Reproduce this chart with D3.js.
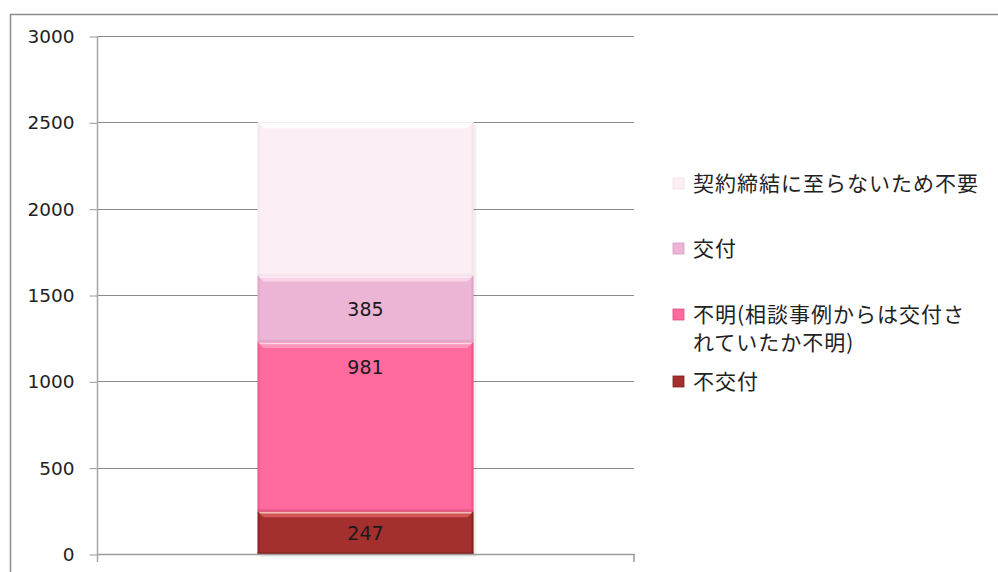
<!DOCTYPE html>
<html>
<head>
<meta charset="utf-8">
<script src="https://cdn.jsdelivr.net/npm/d3@7"></script>
<style>
  body { margin: 0; background: #fff; }
  svg { display: block; }
</style>
</head>
<body>
<script>
// data
var categories = [""];
var seriesNames = ["不交付", "不明（相談事例からは交付されていたか不明）", "交付", "契約締結に至らないため不要"];
var seriesValues = [247, 981, 385, 887];
var showLabel = [true, true, true, false];
var labelFrac = [0.5, 0.85, 0.5, 0.5];   // where in the segment the label sits (0 bottom, 1 top)
var yTicks = [0, 500, 1000, 1500, 2000, 2500, 3000];
var legendLines = [
  ["契約締結に至らないため不要"],
  ["交付"],
  ["不明(相談事例からは交付さ", "れていたか不明)"],
  ["不交付"]
];
var legendColorIdx = [3, 2, 1, 0];

var colors = ["#a3302e", "#ff6b9e", "#ecb5d5", "#fbeff5"];
var lightColors = ["#d85a55", "#ff9cc0", "#fbd6ea", "#ffffff"];
var darkColors = ["#7a1f1d", "#d94f80", "#d79cc0", "#efe0e8"];

var W = 998, H = 572;
var svg = d3.select("body").append("svg").attr("width", W).attr("height", H);

// frame
svg.append("path")
  .attr("d", "M10.5," + H + " L10.5,14.5 L" + W + ",14.5")
  .attr("fill", "none").attr("stroke", "#8c8c8c").attr("stroke-width", 1.5);

var plotL = 97, plotR = 634;
var yScale = d3.scaleLinear().domain([0, 3000]).range([554, 36]);
var xScale = d3.scaleBand().domain(categories).range([plotL, plotR])
  .paddingInner(0.4265).paddingOuter(0.4265);

// gridlines
svg.append("g").selectAll("line").data(yTicks.filter(function(d){return d > 0;}))
  .enter().append("line")
  .attr("x1", plotL).attr("x2", plotR)
  .attr("y1", function(d){return Math.round(yScale(d)) + 0.5;})
  .attr("y2", function(d){return Math.round(yScale(d)) + 0.5;})
  .attr("stroke", "#8a8a8a").attr("stroke-width", 1);

// y axis
var yAxis = d3.axisLeft(yScale).tickValues(yTicks).tickFormat(d3.format("d"))
  .tickSize(8).tickPadding(15);
var yAxisG = svg.append("g").attr("transform", "translate(" + (plotL + 0.5) + ",0.5)").call(yAxis);
yAxisG.select(".domain").remove();
yAxisG.selectAll(".tick line").attr("stroke", "#9a9a9a");
yAxisG.selectAll(".tick text")
  .attr("fill", "#222")
  .style("font-family", "'DejaVu Sans', Verdana, sans-serif")
  .style("font-size", "18.5px");
svg.append("line")
  .attr("x1", plotL + 0.5).attr("x2", plotL + 0.5)
  .attr("y1", yScale(3000)).attr("y2", yScale(0) + 8)
  .attr("stroke", "#a6a6a6").attr("stroke-width", 1.5);

// stacked bar
var stackData = [];
var acc = 0;
for (var i = 0; i < seriesValues.length; i++) {
  stackData.push({i: i, y0: acc, y1: acc + seriesValues[i], v: seriesValues[i]});
  acc += seriesValues[i];
}

var bx = xScale(categories[0]);
var bw = xScale.bandwidth();

// soft shadow
svg.append("rect")
  .attr("x", bx + 3).attr("y", yScale(acc) + 3)
  .attr("width", bw).attr("height", yScale(0) - yScale(acc))
  .attr("fill", "#000").attr("opacity", 0.06);

var segs = svg.append("g").selectAll("g").data(stackData).enter().append("g");

segs.append("rect")
  .attr("x", bx).attr("width", bw)
  .attr("y", function(d){return yScale(d.y1);})
  .attr("height", function(d){return yScale(d.y0) - yScale(d.y1);})
  .attr("fill", function(d){return colors[d.i];});

// bevel: sides darker
segs.append("rect")
  .attr("x", bx).attr("width", 2)
  .attr("y", function(d){return yScale(d.y1);})
  .attr("height", function(d){return yScale(d.y0) - yScale(d.y1);})
  .attr("fill", function(d){return darkColors[d.i];}).attr("opacity", 0.5);
segs.append("rect")
  .attr("x", bx + bw - 2).attr("width", 2)
  .attr("y", function(d){return yScale(d.y1);})
  .attr("height", function(d){return yScale(d.y0) - yScale(d.y1);})
  .attr("fill", function(d){return darkColors[d.i];}).attr("opacity", 0.7);
// bevel: top highlight trapezoid
segs.append("path")
  .attr("d", function(d){
    var t = yScale(d.y1);
    return "M" + bx + "," + t + " L" + (bx + bw) + "," + t +
      " L" + (bx + bw - 6) + "," + (t + 6) + " L" + (bx + 6) + "," + (t + 6) + "Z";
  })
  .attr("fill", function(d){return lightColors[d.i];}).attr("opacity", 0.9);
segs.append("line")
  .attr("x1", bx + 2).attr("x2", bx + bw - 2)
  .attr("y1", function(d){return yScale(d.y1) + 1.5;})
  .attr("y2", function(d){return yScale(d.y1) + 1.5;})
  .attr("stroke", "#fff").attr("stroke-opacity", 0.6).attr("stroke-width", 1.5);
// bevel: bottom darker strip
segs.append("rect")
  .attr("x", bx).attr("width", bw)
  .attr("y", function(d){return yScale(d.y0) - 2;})
  .attr("height", 2)
  .attr("fill", function(d){return darkColors[d.i];}).attr("opacity", 0.6);

// labels
segs.filter(function(d){return showLabel[d.i];})
  .append("text")
  .attr("x", bx + bw / 2)
  .attr("y", function(d){return yScale(d.y0 + d.v * labelFrac[d.i]);})
  .attr("dy", "0.36em")
  .attr("text-anchor", "middle")
  .attr("fill", "#1a1a1a")
  .style("font-family", "'DejaVu Sans', Verdana, sans-serif")
  .style("font-size", "19px")
  .text(function(d){return d.v;});

// x axis
svg.append("line")
  .attr("x1", plotL).attr("x2", plotR + 0.5)
  .attr("y1", yScale(0) + 0.5).attr("y2", yScale(0) + 0.5)
  .attr("stroke", "#9a9a9a").attr("stroke-width", 1.5);
svg.append("line")
  .attr("x1", plotR).attr("x2", plotR)
  .attr("y1", yScale(0)).attr("y2", yScale(0) + 8)
  .attr("stroke", "#9a9a9a").attr("stroke-width", 1.5);

// legend
var legendY = [183, 248, 314, 381];
var leg = svg.append("g").selectAll("g").data(legendLines).enter().append("g")
  .attr("transform", function(d, k){return "translate(673," + legendY[k] + ")";});
leg.append("rect")
  .attr("x", 0).attr("y", -5).attr("width", 11).attr("height", 11)
  .attr("fill", function(d, k){return colors[legendColorIdx[k]];})
  .attr("stroke", function(d, k){return darkColors[legendColorIdx[k]];})
  .attr("stroke-width", 0.8);
leg.append("text")
  .attr("x", 20)
  .style("font-family", "'Noto Sans CJK JP', sans-serif")
  .style("font-size", "21px")
  .style("letter-spacing", "1px")
  .attr("fill", "#222")
  .selectAll("tspan").data(function(d){return d;}).enter().append("tspan")
  .attr("x", 20)
  .attr("y", function(d, j){return j * 28;})
  .attr("dy", "0.36em")
  .text(function(d){return d;});
</script>
</body>
</html>
